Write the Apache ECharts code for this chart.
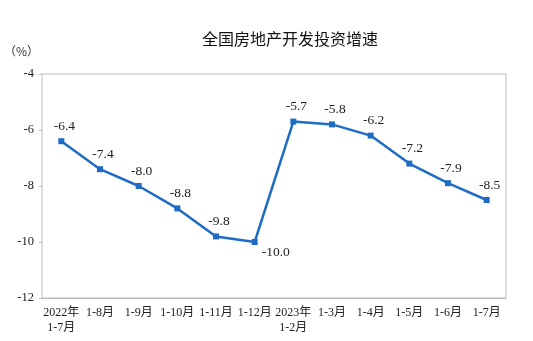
<!DOCTYPE html>
<html>
<head>
<meta charset="utf-8">
<script src="https://cdn.jsdelivr.net/npm/echarts@6/dist/echarts.min.js"></script>
<style>
  html, body { margin: 0; padding: 0; background: #fff; }
  #chart { width: 533px; height: 341px; }
</style>
</head>
<body>
<div id="chart"></div>
<script>
// 全国房地产开发投资累计增速（%）
const categories = ['2022年\n1-7月', '1-8月', '1-9月', '1-10月', '1-11月', '1-12月',
                    '2023年\n1-2月', '1-3月', '1-4月', '1-5月', '1-6月', '1-7月'];
const growth = [-6.4, -7.4, -8.0, -8.8, -9.8, -10.0, -5.7, -5.8, -6.2, -7.2, -7.9, -8.5];
const yTicks = [-12, -10, -8, -6, -4];

const serif = '"Liberation Serif", "Noto Sans CJK SC", serif';

const points = growth.map(v => {
  const p = { value: v };
  if (v === -10.0) {
    p.label = { position: 'right', distance: 4, offset: [0, 10] };
  }
  return p;
});

const chart = echarts.init(document.getElementById('chart'));
chart.setOption({
  animation: false,
  title: {
    text: '全国房地产开发投资增速',
    left: 285, top: 26, textAlign: 'center',
    textStyle: { fontFamily: '"Noto Sans CJK SC", sans-serif', fontSize: 16, fontWeight: 'normal', color: '#111' }
  },
  graphic: [{
    type: 'text', left: 4, top: 45,
    style: { text: '（%）', font: '12px "Noto Sans CJK SC", sans-serif', fill: '#333' }
  }],
  grid: {
    left: 42, right: 27, top: 74, bottom: 43,
    show: true, borderColor: '#bcbcbc', borderWidth: 1
  },
  xAxis: {
    type: 'category',
    data: categories,
    boundaryGap: true,
    axisLine: { lineStyle: { color: '#bcbcbc' } },
    axisTick: { inside: true, length: 4, lineStyle: { color: '#bcbcbc' } },
    axisLabel: {
      interval: 0, margin: 7, color: '#222', fontSize: 12, lineHeight: 15,
      fontFamily: serif
    }
  },
  yAxis: {
    type: 'value',
    min: yTicks[0], max: yTicks[yTicks.length - 1], interval: 2,
    splitLine: { show: false },
    axisLine: { show: false },
    axisTick: { show: true, length: 3, lineStyle: { color: '#bcbcbc' } },
    axisLabel: { color: '#222', fontSize: 12.5, margin: 8, fontFamily: serif }
  },
  series: [{
    type: 'line',
    data: points,
    symbol: 'rect',
    symbolSize: 6,
    lineStyle: { color: '#1f6cc4', width: 2.5 },
    itemStyle: { color: '#1f6cc4' },
    label: {
      show: true, position: 'top', distance: 5, offset: [3, 0],
      color: '#222', fontSize: 13.5, fontFamily: serif,
      formatter: p => p.value.toFixed(1)
    }
  }]
});
</script>
</body>
</html>
